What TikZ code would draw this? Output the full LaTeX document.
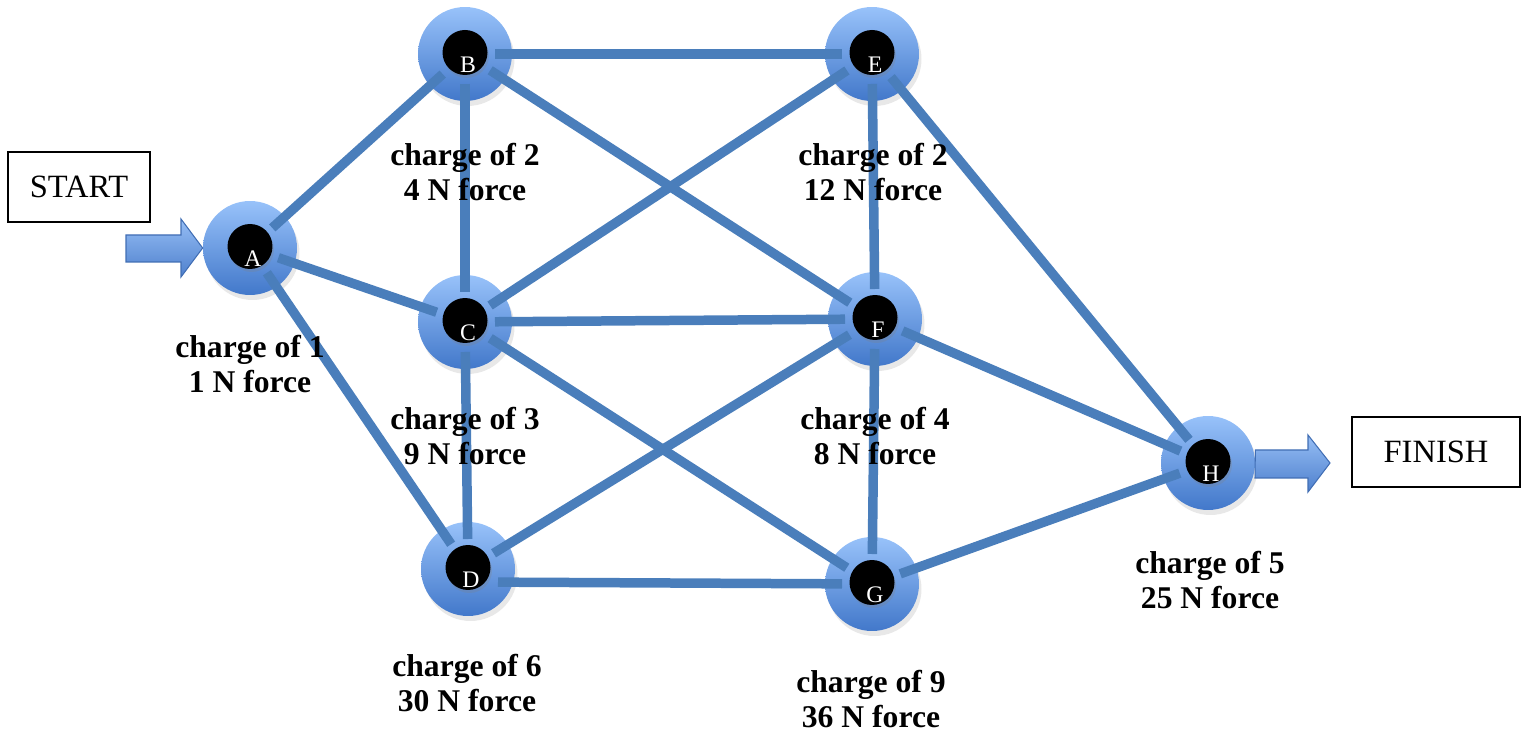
\documentclass[tikz,border=0pt]{standalone}
\usepackage{fontspec}
\setmainfont{Liberation Serif}
\usetikzlibrary{shadows}
\definecolor{edgeblue}{RGB}{74,126,187}
\definecolor{disctop}{RGB}{152,194,250}
\definecolor{discbot}{RGB}{66,120,202}
\definecolor{arrowtop}{RGB}{150,190,245}
\definecolor{arrowbot}{RGB}{78,128,205}
\definecolor{arrowline}{RGB}{65,110,180}
\begin{document}
\begin{tikzpicture}[x=0.02cm,y=-0.02cm,
  disc/.style={circle, minimum size=1.88cm, inner sep=0pt, top color=disctop,
    bottom color=discbot, draw=none,
    drop shadow={opacity=0.18, shadow xshift=0.05cm, shadow yshift=-0.1cm}},
  core/.style={circle, minimum size=0.9cm, inner sep=0pt, fill=black,
    drop shadow={opacity=0.25, shadow xshift=0.03cm, shadow yshift=-0.06cm}},
  tag/.style={text=white, font=\fontsize{13.5}{14}\selectfont, inner sep=0pt, anchor=base},
  link/.style={draw=edgeblue, line width=0.19cm, shorten <=0.6cm, shorten >=0.6cm},
  info/.style={align=center, font=\fontsize{18}{19.8}\selectfont\bfseries, inner sep=0pt},
  endbox/.style={draw=black, line width=0.9pt, minimum height=1.4cm, inner sep=0pt,
    font=\fontsize{18.5}{18.5}\selectfont},
  block/.style={draw=arrowline, line width=0.6pt, top color=arrowtop, bottom color=arrowbot}
]
\useasboundingbox (0,0) rectangle (1527,732);

% blue discs
\node[disc] (A) at (250,248) {};
\node[disc] (B) at (465,54) {};
\node[disc] (C) at (465,322) {};
\node[disc] (D) at (468,569) {};
\node[disc] (E) at (872,54) {};
\node[disc] (F) at (875,319) {};
\node[disc] (G) at (872,584) {};
\node[disc] (H) at (1208,463) {};

% connections
\foreach \u/\v in {A/B, A/C, A/D, B/C, B/E, B/F, C/D, C/E, C/F, C/G,
                   D/F, E/F, E/H, F/G, F/H, G/H}
  \draw[link] (\u.center) -- (\v.center);
\draw[link] ([yshift=-0.26cm]D.center) -- (G.center);

% black cores with letters
\foreach \n in {A,B,C,D,E,F,G,H} {
  \node[core] (\n k) at ([yshift=0.03cm]\n.center) {};
  \node[tag] (\n t) at ([xshift=0.06cm,yshift=-0.37cm]\n.center) {\n};
}

% entry and exit arrows
\draw[block] (126,235) -- (181,235) -- (181,219) -- (A.west) -- (181,277)
  -- (181,262) -- (126,262) -- cycle;
\draw[block] (H.east) ++(0,-13) -- (1308,450) -- (1308,435) -- (1330,463)
  -- (1308,492) -- (1308,478) -- (1255,478) -- cycle;

% start and finish boxes
\node[endbox, minimum width=2.84cm] (start) at (79,187) {START};
\node[endbox, minimum width=3.36cm] (finish) at (1436,452) {FINISH};

% charges and forces
\node[info] (Ai) at (250,364) {charge of 1\\1 N force};
\node[info] (Bi) at (465,172) {charge of 2\\4 N force};
\node[info] (Ei) at (873,172) {charge of 2\\12 N force};
\node[info] (Ci) at (465,436) {charge of 3\\9 N force};
\node[info] (Fi) at (875,436) {charge of 4\\8 N force};
\node[info] (Di) at (467,683) {charge of 6\\30 N force};
\node[info] (Gi) at (871,699) {charge of 9\\36 N force};
\node[info] (Hi) at (1210,580) {charge of 5\\25 N force};
\end{tikzpicture}
\end{document}
